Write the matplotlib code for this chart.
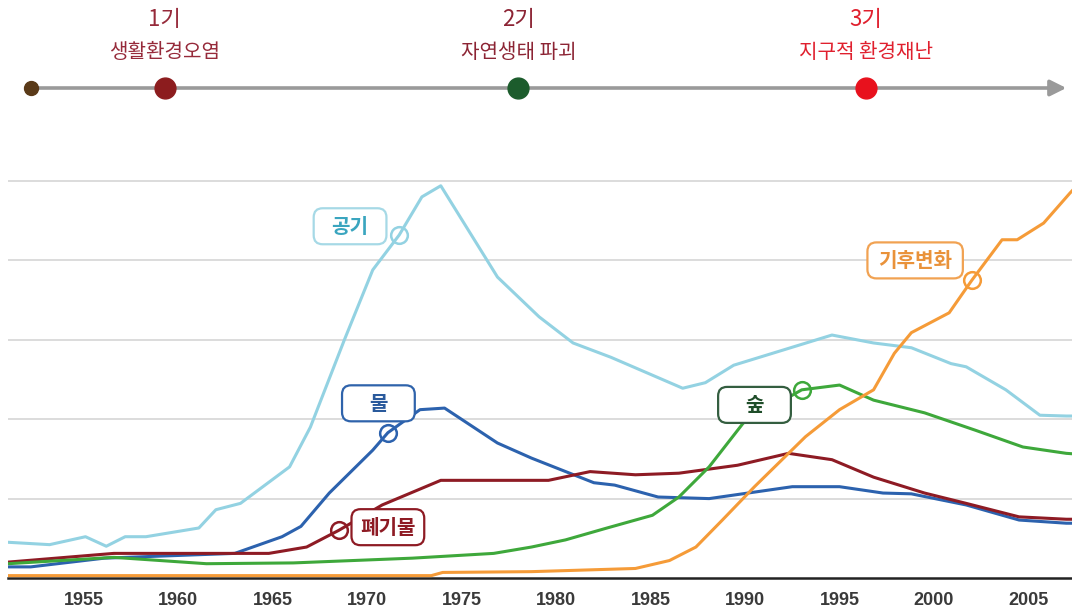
import numpy as np
import matplotlib
matplotlib.use("Agg")
import matplotlib.pyplot as plt
from matplotlib import font_manager
from matplotlib.patches import FancyBboxPatch

# ---------------- data ----------------
air_years = [1951.0, 1953.2, 1955.1, 1956.2, 1957.2, 1958.3, 1961.1, 1962.0, 1963.3, 1965.9,
             1967.0, 1968.8, 1970.3, 1971.7, 1972.9, 1973.9, 1976.9, 1979.1, 1980.9, 1982.9,
             1986.7, 1987.9, 1989.4, 1994.6, 1996.8, 1998.8, 2000.9, 2001.7, 2003.8, 2005.6,
             2007.0, 2007.6]
air_vals = [0.45, 0.42, 0.52, 0.40, 0.52, 0.52, 0.63, 0.86, 0.94, 1.40,
            1.90, 3.00, 3.88, 4.32, 4.80, 4.94, 3.79, 3.29, 2.96, 2.78,
            2.39, 2.46, 2.68, 3.06, 2.96, 2.90, 2.70, 2.66, 2.37, 2.05,
            2.04, 2.04]

water_years = [1951.0, 1952.2, 1956.1, 1963.0, 1965.5, 1966.5, 1968.0, 1970.3, 1971.1, 1972.8,
               1974.1, 1976.9, 1978.7, 1982.0, 1983.1, 1985.4, 1988.1, 1992.5, 1995.0, 1997.3,
               1998.8, 2001.7, 2004.5, 2007.0, 2007.6]
water_vals = [0.14, 0.14, 0.25, 0.31, 0.52, 0.65, 1.07, 1.61, 1.83, 2.12,
              2.14, 1.70, 1.51, 1.20, 1.17, 1.02, 1.00, 1.15, 1.15, 1.07,
              1.06, 0.92, 0.73, 0.69, 0.69]

waste_years = [1951.0, 1956.6, 1964.8, 1966.8, 1968.5, 1970.8, 1973.9, 1979.6, 1981.8, 1984.2,
               1986.5, 1989.6, 1992.3, 1994.6, 1996.8, 1999.5, 2001.7, 2004.5, 2007.0, 2007.6]
waste_vals = [0.20, 0.31, 0.31, 0.39, 0.60, 0.92, 1.23, 1.23, 1.34, 1.30,
              1.32, 1.42, 1.57, 1.49, 1.27, 1.07, 0.94, 0.77, 0.74, 0.74]

forest_years = [1951.0, 1956.6, 1961.5, 1966.1, 1972.4, 1976.7, 1978.7, 1980.5, 1982.7, 1985.1,
                1986.5, 1988.1, 1989.9, 1993.0, 1995.0, 1996.8, 1999.5, 2002.2, 2004.7, 2007.0,
                2007.6]
forest_vals = [0.18, 0.26, 0.18, 0.19, 0.25, 0.31, 0.39, 0.48, 0.63, 0.79,
               1.02, 1.40, 1.95, 2.37, 2.43, 2.24, 2.08, 1.86, 1.65, 1.57,
               1.56]

climate_years = [1951.0, 1973.4, 1974.0, 1978.7, 1984.2, 1986.0, 1987.4, 1988.8, 1990.5, 1993.2,
                 1995.0, 1996.8, 1997.9, 1998.8, 2000.8, 2002.0, 2003.6, 2004.4, 2005.8, 2007.2,
                 2007.6]
climate_vals = [0.03, 0.03, 0.07, 0.08, 0.12, 0.22, 0.39, 0.73, 1.15, 1.78,
                2.12, 2.37, 2.83, 3.09, 3.34, 3.75, 4.26, 4.26, 4.47, 4.85,
                4.95]

series_names = ["공기", "물", "폐기물", "숲", "기후변화"]
marker_years = [1971.7, 1971.1, 1968.5, 1993.0, 2002.0]
label_years = [1969.1, 1970.6, 1971.1, 1990.5, 1999.0]
label_vals = [4.43, 2.20, 0.64, 2.18, 4.00]

xticks = [1955, 1960, 1965, 1970, 1975, 1980, 1985, 1990, 1995, 2000, 2005]

phase_labels = ["1기", "2기", "3기"]
phase_names = ["생활환경오염", "자연생태 파괴", "지구적 환경재난"]
phase_years = [1959.3, 1978.0, 1996.4]
timeline_start = 1952.2
timeline_end = 2007.0

# ---------------- style ----------------
line_colors = ["#93d2e2", "#2c62ae", "#8e1b24", "#3ea83b", "#f59b38"]
text_colors = ["#3aa5bf", "#2a5a9c", "#8e1b24", "#1f4d29", "#e9923a"]
edge_colors = ["#a6d9e6", "#2f63ab", "#8e1b24", "#345e40", "#f1a252"]
box_widths = [3.85, 3.85, 3.85, 3.85, 5.05]
phase_dot_colors = ["#8c1c1e", "#1c5c2c", "#e8111d"]
phase_text_colors = ["#962a3a", "#8c2434", "#e0202e"]

def has_font(name):
    try:
        font_manager.findfont(name, fallback_to_default=False)
        return True
    except Exception:
        return False

KR = ["Noto Sans CJK KR", "DejaVu Sans"]
num_font = "Liberation Sans Narrow" if has_font("Liberation Sans Narrow") else "Liberation Sans"
num_size = 15 if num_font == "Liberation Sans Narrow" else 13

W, H = 1072, 612
fig = plt.figure(figsize=(W / 100, H / 100), dpi=100)
fig.patch.set_facecolor("white")

# main chart axes: x from px 8 to 1072, y from px 578 (baseline) up to px 170
px_per_unit = 79.4
ax = fig.add_axes([8 / W, 34 / H, 1064 / W, 408 / H])
ax.set_xlim(1951.0, 2007.3)
ax.set_ylim(0, 408 / px_per_unit)
for s in ["top", "right", "left"]:
    ax.spines[s].set_visible(False)
ax.spines["bottom"].set_color("#222222")
ax.spines["bottom"].set_linewidth(1.8)
ax.set_yticks([1, 2, 3, 4, 5])
ax.yaxis.grid(True, color="#d6d6d6", lw=1.2)
ax.set_axisbelow(True)
ax.tick_params(axis="y", length=0, labelleft=False)
ax.set_xticks(xticks)
ax.set_xticklabels([str(t) for t in xticks], fontfamily=num_font, fontsize=num_size,
                   fontweight="bold", color="#3a3a3a")
ax.tick_params(axis="x", length=0, pad=10)

all_years = [air_years, water_years, waste_years, forest_years, climate_years]
all_vals = [air_vals, water_vals, waste_vals, forest_vals, climate_vals]
order = [0, 4, 3, 2, 1]
for i in order:
    ax.plot(all_years[i], all_vals[i], color=line_colors[i], lw=2.2, zorder=3 + i * 0.1,
            solid_joinstyle="round")

# circle markers on lines
for i in range(5):
    my = np.interp(marker_years[i], all_years[i], all_vals[i])
    ax.plot([marker_years[i]], [my], marker="o", ms=12, mfc="none", mec=line_colors[i],
            mew=1.8, zorder=5)

# label boxes
xpx = (ax.get_position().width * W) / (ax.get_xlim()[1] - ax.get_xlim()[0])
aspect = xpx / px_per_unit
box_h = 36 / px_per_unit
for i in range(5):
    bw = box_widths[i]
    box = FancyBboxPatch((label_years[i] - bw / 2, label_vals[i] - box_h / 2), bw, box_h,
                         boxstyle="round,pad=0,rounding_size=%f" % (9 / xpx),
                         mutation_aspect=aspect, facecolor="white",
                         edgecolor=edge_colors[i], lw=1.6, zorder=6)
    ax.add_patch(box)
    ax.text(label_years[i], label_vals[i], series_names[i], ha="center", va="center",
            fontsize=14.5, fontweight="bold", color=text_colors[i], family=KR, zorder=7)

# ---------------- timeline ----------------
tax = fig.add_axes([8 / W, (H - 120) / H, 1064 / W, 120 / H])
tax.set_xlim(ax.get_xlim())
tax.set_ylim(120, 0)
tax.axis("off")
tl_y = 88
tax.annotate("", xy=(timeline_end, tl_y), xytext=(timeline_start, tl_y),
             arrowprops=dict(arrowstyle="-|>", color="#9a9a9a", lw=2.6, mutation_scale=24,
                             shrinkA=0, shrinkB=0))
tax.plot([timeline_start], [tl_y], "o", ms=10, color="#5a3a18", zorder=5)
for i in range(3):
    tax.plot([phase_years[i]], [tl_y], "o", ms=15, color=phase_dot_colors[i], zorder=5)
    tax.text(phase_years[i], 20, phase_labels[i], ha="center", va="center", fontsize=16,
             fontweight="medium", color=phase_text_colors[i], family=KR)
    tax.text(phase_years[i], 52, phase_names[i], ha="center", va="center", fontsize=14.5,
             fontweight="medium", color=phase_text_colors[i], family=KR)

fig.savefig("out.png", dpi=100, facecolor="white")
